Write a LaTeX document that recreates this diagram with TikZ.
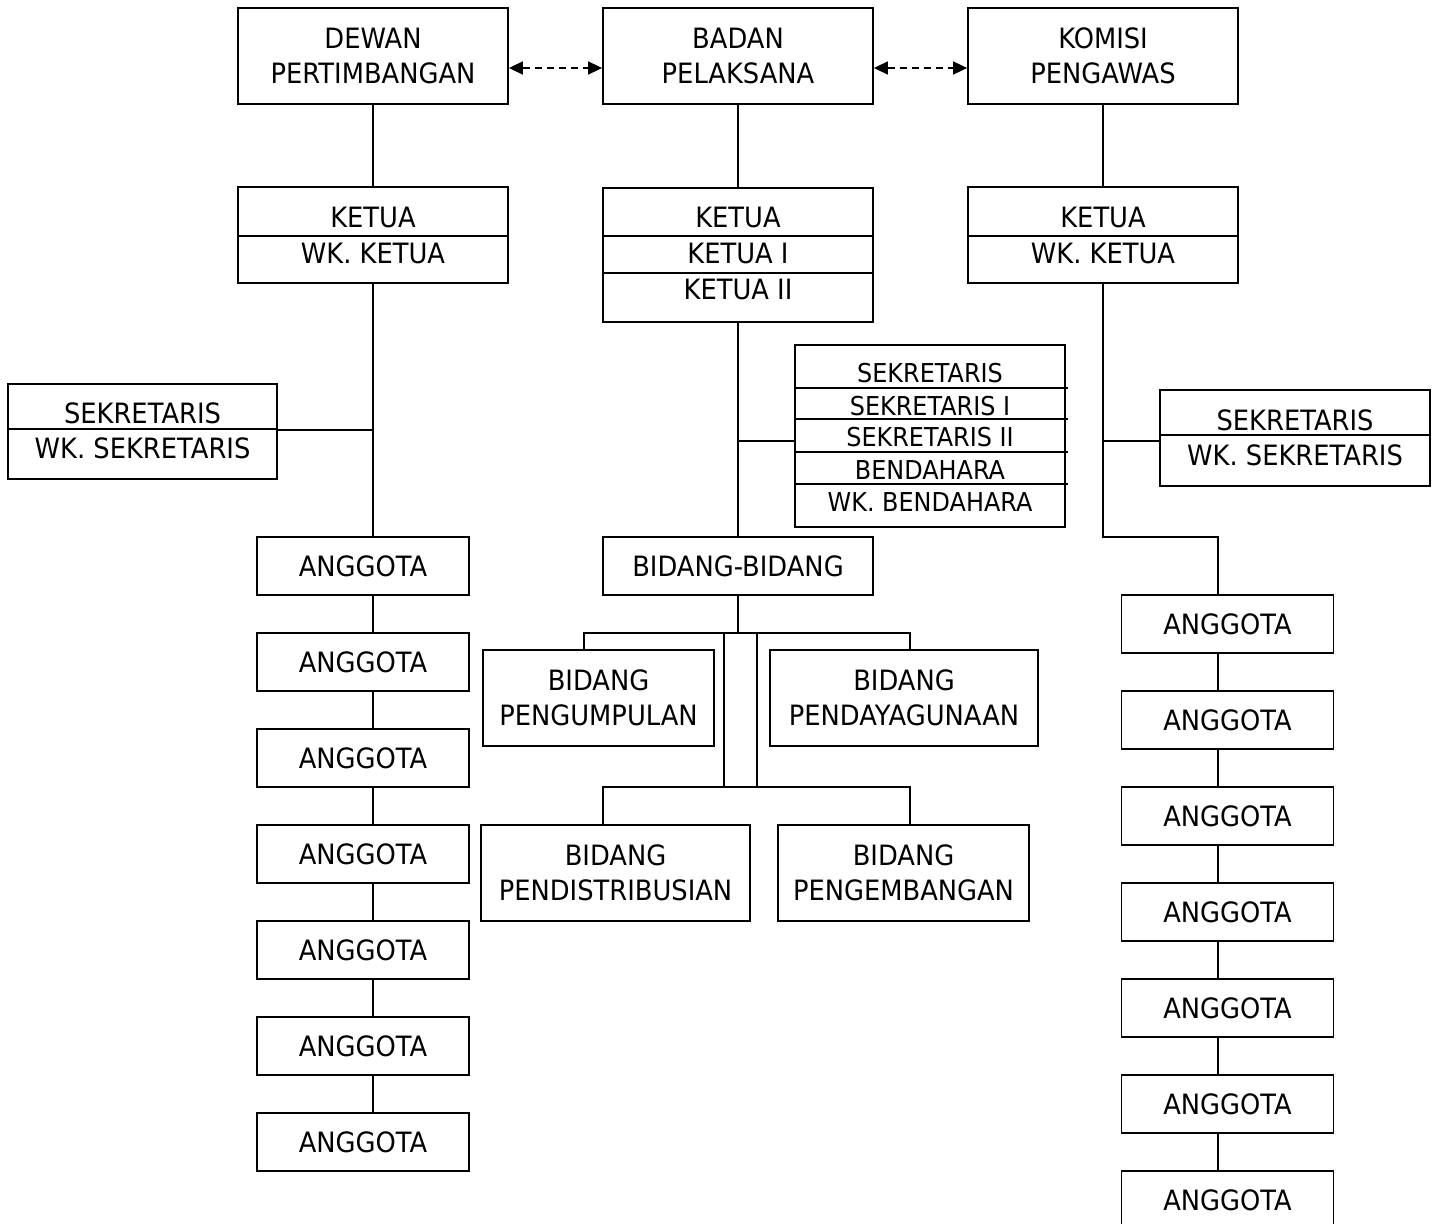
\documentclass[tikz,border=0pt]{standalone}
\usepackage{fontspec}
\setmainfont{DejaVu Sans}[FakeStretch=0.92]
\usetikzlibrary{arrows.meta,calc}
\newcommand\orgbig{\fontsize{28}{35}\selectfont}
\newcommand\orgsmall{\fontsize{26}{32}\selectfont}
\begin{document}
\begin{tikzpicture}[x=1pt,y=-1pt,
  box/.style={draw,line width=1.8pt,rectangle,inner sep=0pt,align=center,font=\orgbig},
  rowtext/.style={inner sep=0pt,align=center,font=\orgbig},
  smalltext/.style={inner sep=0pt,align=center,font=\orgsmall},
  conn/.style={line width=1.8pt},
  twoway/.style={line width=1.6pt,dash pattern=on 7pt off 5pt,
    {Triangle[length=14pt,width=13pt]}-{Triangle[length=14pt,width=13pt]}},
  anggota/.style={box,minimum width=212pt,minimum height=58pt}]
\useasboundingbox (0,0) rectangle (1439,1223);
% top row
\node[box,minimum width=270pt,minimum height=96pt] (dp) at (373,56) {DEWAN\\PERTIMBANGAN};
\node[box,minimum width=270pt,minimum height=96pt] (bp) at (738,56) {BADAN\\PELAKSANA};
\node[box,minimum width=270pt,minimum height=96pt] (kp) at (1103,56) {KOMISI\\PENGAWAS};
\draw[twoway] ($(dp.east)+(0,12)$) -- ($(bp.west)+(0,12)$);
\draw[twoway] ($(bp.east)+(0,12)$) -- ($(kp.west)+(0,12)$);
% ketua boxes
\node[box,minimum width=270pt,minimum height=96pt] (k1) at (373,235) {};
\node[rowtext] (k1a) at (373,217) {KETUA};
\node[rowtext] (k1b) at (373,253) {WK. KETUA};
\draw[conn] ($(k1.north west)+(0,50)$) -- ($(k1.north east)+(0,50)$);
\node[box,minimum width=270pt,minimum height=134pt] (k2) at (738,255) {};
\node[rowtext] (k2a) at (738,217) {KETUA};
\node[rowtext] (k2b) at (738,253) {KETUA I};
\node[rowtext] (k2c) at (738,289) {KETUA II};
\draw[conn] ($(k2.north west)+(0,49)$) -- ($(k2.north east)+(0,49)$);
\draw[conn] ($(k2.north west)+(0,86)$) -- ($(k2.north east)+(0,86)$);
\node[box,minimum width=270pt,minimum height=96pt] (k3) at (1103,235) {};
\node[rowtext] (k3a) at (1103,217) {KETUA};
\node[rowtext] (k3b) at (1103,253) {WK. KETUA};
\draw[conn] ($(k3.north west)+(0,50)$) -- ($(k3.north east)+(0,50)$);
\draw[conn] (dp.south) -- (k1.north);
\draw[conn] (bp.south) -- (k2.north);
\draw[conn] (kp.south) -- (k3.north);
% sekretaris boxes
\node[box,minimum width=269pt,minimum height=95pt] (s1) at (142.5,431.5) {};
\node[rowtext] (s1a) at (142.5,413) {SEKRETARIS};
\node[rowtext] (s1b) at (142.5,448) {WK. SEKRETARIS};
\draw[conn] ($(s1.north west)+(0,46)$) -- ($(s1.north east)+(0,46)$);
\node[box,minimum width=270pt,minimum height=182pt] (s2) at (930,436) {};
\node[smalltext] (s2a) at (930,373) {SEKRETARIS};
\node[smalltext] (s2b) at (930,406) {SEKRETARIS I};
\node[smalltext] (s2c) at (930,437) {SEKRETARIS II};
\node[smalltext] (s2d) at (930,470) {BENDAHARA};
\node[smalltext] (s2e) at (930,502) {WK. BENDAHARA};
\foreach \d in {44,75,108,140}
  \draw[conn] ($(s2.north west)+(0,\d)$) -- ($(s2.north east)+(2,\d)$);
\node[box,minimum width=270pt,minimum height=96pt] (s3) at (1295,438) {};
\node[rowtext] (s3a) at (1295,420) {SEKRETARIS};
\node[rowtext] (s3b) at (1295,455) {WK. SEKRETARIS};
\draw[conn] ($(s3.north west)+(0,46)$) -- ($(s3.north east)+(0,46)$);
% anggota columns
\coordinate (lx) at (373,0);
\coordinate (rx) at (1218,0);
\foreach \i in {0,...,6} {
  \node[anggota] (la\i) at (363,{566+96*\i}) {ANGGOTA};
  \node[anggota] (ra\i) at (1227.5,{624+96*\i}) {ANGGOTA};
}
\foreach \i/\j in {0/1,1/2,2/3,3/4,4/5,5/6} {
  \draw[conn] (la\i.south -| lx) -- (la\j.north -| lx);
  \draw[conn] (ra\i.south -| rx) -- (ra\j.north -| rx);
}
\draw[conn] (k1.south) -- (la0.north -| k1.south);
\coordinate (s1j) at (373,430);
\draw[conn] (s1.east |- s1j) -- (s1j);
\coordinate (rbend) at (1103,537);
\draw[conn] (k3.south) -- (rbend) -- (rbend -| rx) -- (ra0.north -| rx);
\coordinate (s3j) at (1103,441);
\draw[conn] (s3j) -- (s3.west |- s3j);
% bidang
\node[box,minimum width=270pt,minimum height=58pt] (bb) at (738,566) {BIDANG-BIDANG};
\draw[conn] (k2.south) -- (bb.north);
\coordinate (s2j) at (738,441);
\draw[conn] (s2j) -- (s2.west |- s2j);
\node[box,minimum width=231pt,minimum height=96pt] (bpu) at (598.5,698) {BIDANG\\PENGUMPULAN};
\node[box,minimum width=268pt,minimum height=96pt] (bpd) at (904,698) {BIDANG\\PENDAYAGUNAAN};
\node[box,minimum width=269pt,minimum height=96pt] (bdi) at (615.5,873) {BIDANG\\PENDISTRIBUSIAN};
\node[box,minimum width=251pt,minimum height=96pt] (bpe) at (903.5,873) {BIDANG\\PENGEMBANGAN};
\coordinate (bj) at (738,633);
\coordinate (t1) at (584,633);
\coordinate (t2) at (910,633);
\coordinate (m1) at (724,633);
\coordinate (m2) at (757,633);
\coordinate (u1) at (603,787);
\coordinate (u2) at (910,787);
\draw[conn] (bb.south) -- (bj);
\draw[conn] (t1 |- bpu.north) -- (t1) -- (t2) -- (t2 |- bpd.north);
\draw[conn] (m1) -- (m1 |- u1);
\draw[conn] (m2) -- (m2 |- u1);
\draw[conn] (u1 |- bdi.north) -- (u1) -- (u2) -- (u2 |- bpe.north);
\end{tikzpicture}
\end{document}
